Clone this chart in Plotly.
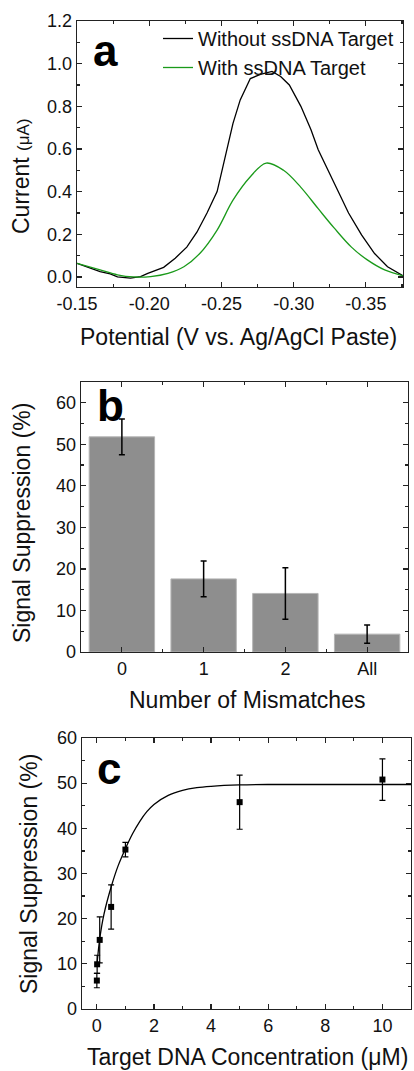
import plotly.graph_objects as go

# ---------------- data ----------------
# Panel a: differential pulse voltammograms
pot_without = [-0.150, -0.159, -0.166, -0.173, -0.178, -0.187, -0.194, -0.199, -0.204, -0.210,
               -0.218, -0.226, -0.233, -0.240, -0.247, -0.253, -0.258, -0.263, -0.270, -0.277,
               -0.285, -0.291, -0.297, -0.305, -0.312, -0.317, -0.328, -0.338, -0.347, -0.356,
               -0.365, -0.374, -0.376]
cur_without = [0.064, 0.041, 0.025, 0.014, 0.000, -0.005, 0.002, 0.017, 0.030, 0.045,
               0.088, 0.140, 0.210, 0.300, 0.400, 0.580, 0.720, 0.830, 0.930, 0.950,
               0.964, 0.940, 0.900, 0.800, 0.690, 0.596, 0.440, 0.300, 0.197, 0.110,
               0.048, 0.010, 0.005]
pot_with = [-0.150, -0.166, -0.178, -0.189, -0.201, -0.213, -0.224, -0.235, -0.247, -0.258,
            -0.270, -0.281, -0.293, -0.305, -0.317, -0.328, -0.340, -0.351, -0.363, -0.376]
cur_with = [0.064, 0.033, 0.010, 0.000, 0.002, 0.017, 0.048, 0.110, 0.220, 0.360,
            0.470, 0.534, 0.500, 0.420, 0.320, 0.230, 0.140, 0.080, 0.033, 0.005]
a_xtick_vals = [-0.15, -0.20, -0.25, -0.30, -0.35]
a_xtick_text = ["-0.15", "-0.20", "-0.25", "-0.30", "-0.35"]

# Panel b: mismatches
mismatch_cats = ["0", "1", "2", "All"]
suppression = [51.8, 17.6, 14.1, 4.3]
suppression_err = [4.3, 4.3, 6.2, 2.2]

# Panel c: concentration dependence
conc = [0, 0.01, 0.1, 0.5, 1, 5, 10]
conc_supp = [6.3, 9.9, 15.3, 22.6, 35.3, 45.8, 50.8]
conc_err = [1.6, 2.0, 5.1, 4.9, 1.6, 6.0, 4.6]
fit_x = [0, 0.1, 0.25, 0.5, 0.75, 1.0, 1.25, 1.5, 1.75, 2.0, 2.5, 3.0, 3.5, 4.0, 5.0, 6.0, 8.0, 11.0]
fit_y = [9.5, 15.5, 21.0, 27.0, 31.8, 35.5, 38.8, 41.5, 43.7, 45.3, 47.3, 48.4, 49.0, 49.3, 49.6, 49.7, 49.7, 49.7]

# ---------------- layout helpers ----------------
W, H = 414, 1071
FONT = "Liberation Sans, Arial, sans-serif"
TXT = "#111111"


def px_x(p):
    return p / W


def px_y(p):
    return 1 - p / H


fig = go.Figure()

fig.add_trace(go.Scatter(x=pot_without, y=cur_without, mode="lines", name="Without ssDNA Target",
                         line=dict(color="#000000", width=1.3), xaxis="x", yaxis="y"))
fig.add_trace(go.Scatter(x=pot_with, y=cur_with, mode="lines", name="With ssDNA Target",
                         line=dict(color="#1a9a1a", width=1.3, shape="spline"), xaxis="x", yaxis="y"))

fig.add_trace(go.Bar(x=list(range(len(mismatch_cats))), y=suppression, width=0.8,
                     marker=dict(color="#8e8e8e", line=dict(color="#b5b5b5", width=1)),
                     error_y=dict(type="data", array=suppression_err, color="#000000", thickness=1.5, width=3),
                     showlegend=False, xaxis="x2", yaxis="y2"))

fig.add_trace(go.Scatter(x=fit_x, y=fit_y, mode="lines", line=dict(color="#000000", width=1.3, shape="spline"),
                         showlegend=False, xaxis="x3", yaxis="y3"))
fig.add_trace(go.Scatter(x=conc, y=conc_supp, mode="markers",
                         marker=dict(symbol="square", size=6, color="#000000"),
                         error_y=dict(type="data", array=conc_err, color="#000000", thickness=1.2, width=3),
                         showlegend=False, xaxis="x3", yaxis="y3"))

axis_common = dict(showline=True, linecolor="#222222", linewidth=1.3, mirror="ticks",
                   ticks="inside", ticklen=5, tickwidth=1.2, tickcolor="#222222",
                   showgrid=False, zeroline=False, automargin=False,
                   tickfont=dict(family=FONT, size=18, color=TXT))

fig.update_layout(
    width=W, height=H, autosize=False,
    margin=dict(l=0, r=0, t=0, b=0, pad=0, autoexpand=False),
    paper_bgcolor="white", plot_bgcolor="white",
    font=dict(family=FONT, color=TXT),
    showlegend=True,
    legend=dict(x=px_x(158), y=px_y(19), xanchor="left", yanchor="top",
                bgcolor="rgba(0,0,0,0)", font=dict(family=FONT, size=20, color=TXT),
                itemwidth=30, tracegroupgap=0),
    xaxis=dict(domain=[px_x(77), px_x(403)], anchor="y", range=[-0.15, -0.3757],
               tickmode="array", tickvals=a_xtick_vals, ticktext=a_xtick_text,
               minor=dict(ticks="inside", ticklen=3, dtick=0.025, tick0=-0.15, tickcolor="#222222"),
               **axis_common),
    yaxis=dict(domain=[px_y(287), px_y(21)], anchor="x", range=[-0.047, 1.2],
               dtick=0.2, tick0=0, tickformat=".1f",
               minor=dict(ticks="inside", ticklen=3, dtick=0.1, tick0=0, tickcolor="#222222"),
               **axis_common),
    xaxis2=dict(domain=[px_x(81), px_x(408)], anchor="y2", range=[-0.5, 3.5],
                tickmode="array", tickvals=list(range(len(mismatch_cats))), ticktext=mismatch_cats,
                minor=dict(ticks="inside", ticklen=3, dtick=0.5, tick0=0, tickcolor="#222222"),
                **axis_common),
    yaxis2=dict(domain=[px_y(652), px_y(382)], anchor="x2", range=[0, 65], dtick=10, tick0=0,
                minor=dict(ticks="inside", ticklen=3, dtick=5, tick0=0, tickcolor="#222222"),
                **axis_common),
    xaxis3=dict(domain=[px_x(82), px_x(411)], anchor="y3", range=[-0.52, 11], dtick=2, tick0=0,
                minor=dict(ticks="inside", ticklen=3, dtick=1, tick0=0, tickcolor="#222222"),
                **axis_common),
    yaxis3=dict(domain=[px_y(1009), px_y(738)], anchor="x3", range=[0, 60], dtick=10, tick0=0,
                minor=dict(ticks="inside", ticklen=3, dtick=5, tick0=0, tickcolor="#222222"),
                **axis_common),
    bargap=0.2,
)

ann = []
title_font = dict(family=FONT, size=23, color=TXT)
# panel letters
for letter, xp, yp in [("a", 105, 50), ("b", 110, 405), ("c", 109, 768)]:
    ann.append(dict(text=f"<b>{letter}</b>", x=px_x(xp), y=px_y(yp), xref="paper", yref="paper",
                    showarrow=False, xanchor="center", yanchor="middle",
                    font=dict(family=FONT, size=44, color="#000000")))
# axis titles
ann.append(dict(text="Potential (V vs. Ag/AgCl Paste)", x=px_x(238), y=px_y(337), xref="paper", yref="paper",
                showarrow=False, xanchor="center", yanchor="middle", font=title_font))
ann.append(dict(text='Current <span style="font-size:17px">(μA)</span>', x=px_x(21), y=px_y(176),
                xref="paper", yref="paper", textangle=-90,
                showarrow=False, xanchor="center", yanchor="middle", font=title_font))
ann.append(dict(text="Number of Mismatches", x=px_x(247), y=px_y(700), xref="paper", yref="paper",
                showarrow=False, xanchor="center", yanchor="middle", font=title_font))
ann.append(dict(text="Signal Suppression (%)", x=px_x(22), y=px_y(523), xref="paper", yref="paper",
                textangle=-90, showarrow=False, xanchor="center", yanchor="middle", font=title_font))
ann.append(dict(text="Target DNA Concentration (μM)", x=px_x(247), y=px_y(1057), xref="paper", yref="paper",
                showarrow=False, xanchor="center", yanchor="middle", font=title_font))
ann.append(dict(text="Signal Suppression (%)", x=px_x(29), y=px_y(874), xref="paper", yref="paper",
                textangle=-90, showarrow=False, xanchor="center", yanchor="middle", font=title_font))
fig.update_layout(annotations=ann)

fig.write_html("out.html",
               config={"displayModeBar": False, "staticPlot": True},
               post_script="document.body.style.margin='0';document.body.style.padding='0';"
                           "document.body.style.overflow='hidden';")
